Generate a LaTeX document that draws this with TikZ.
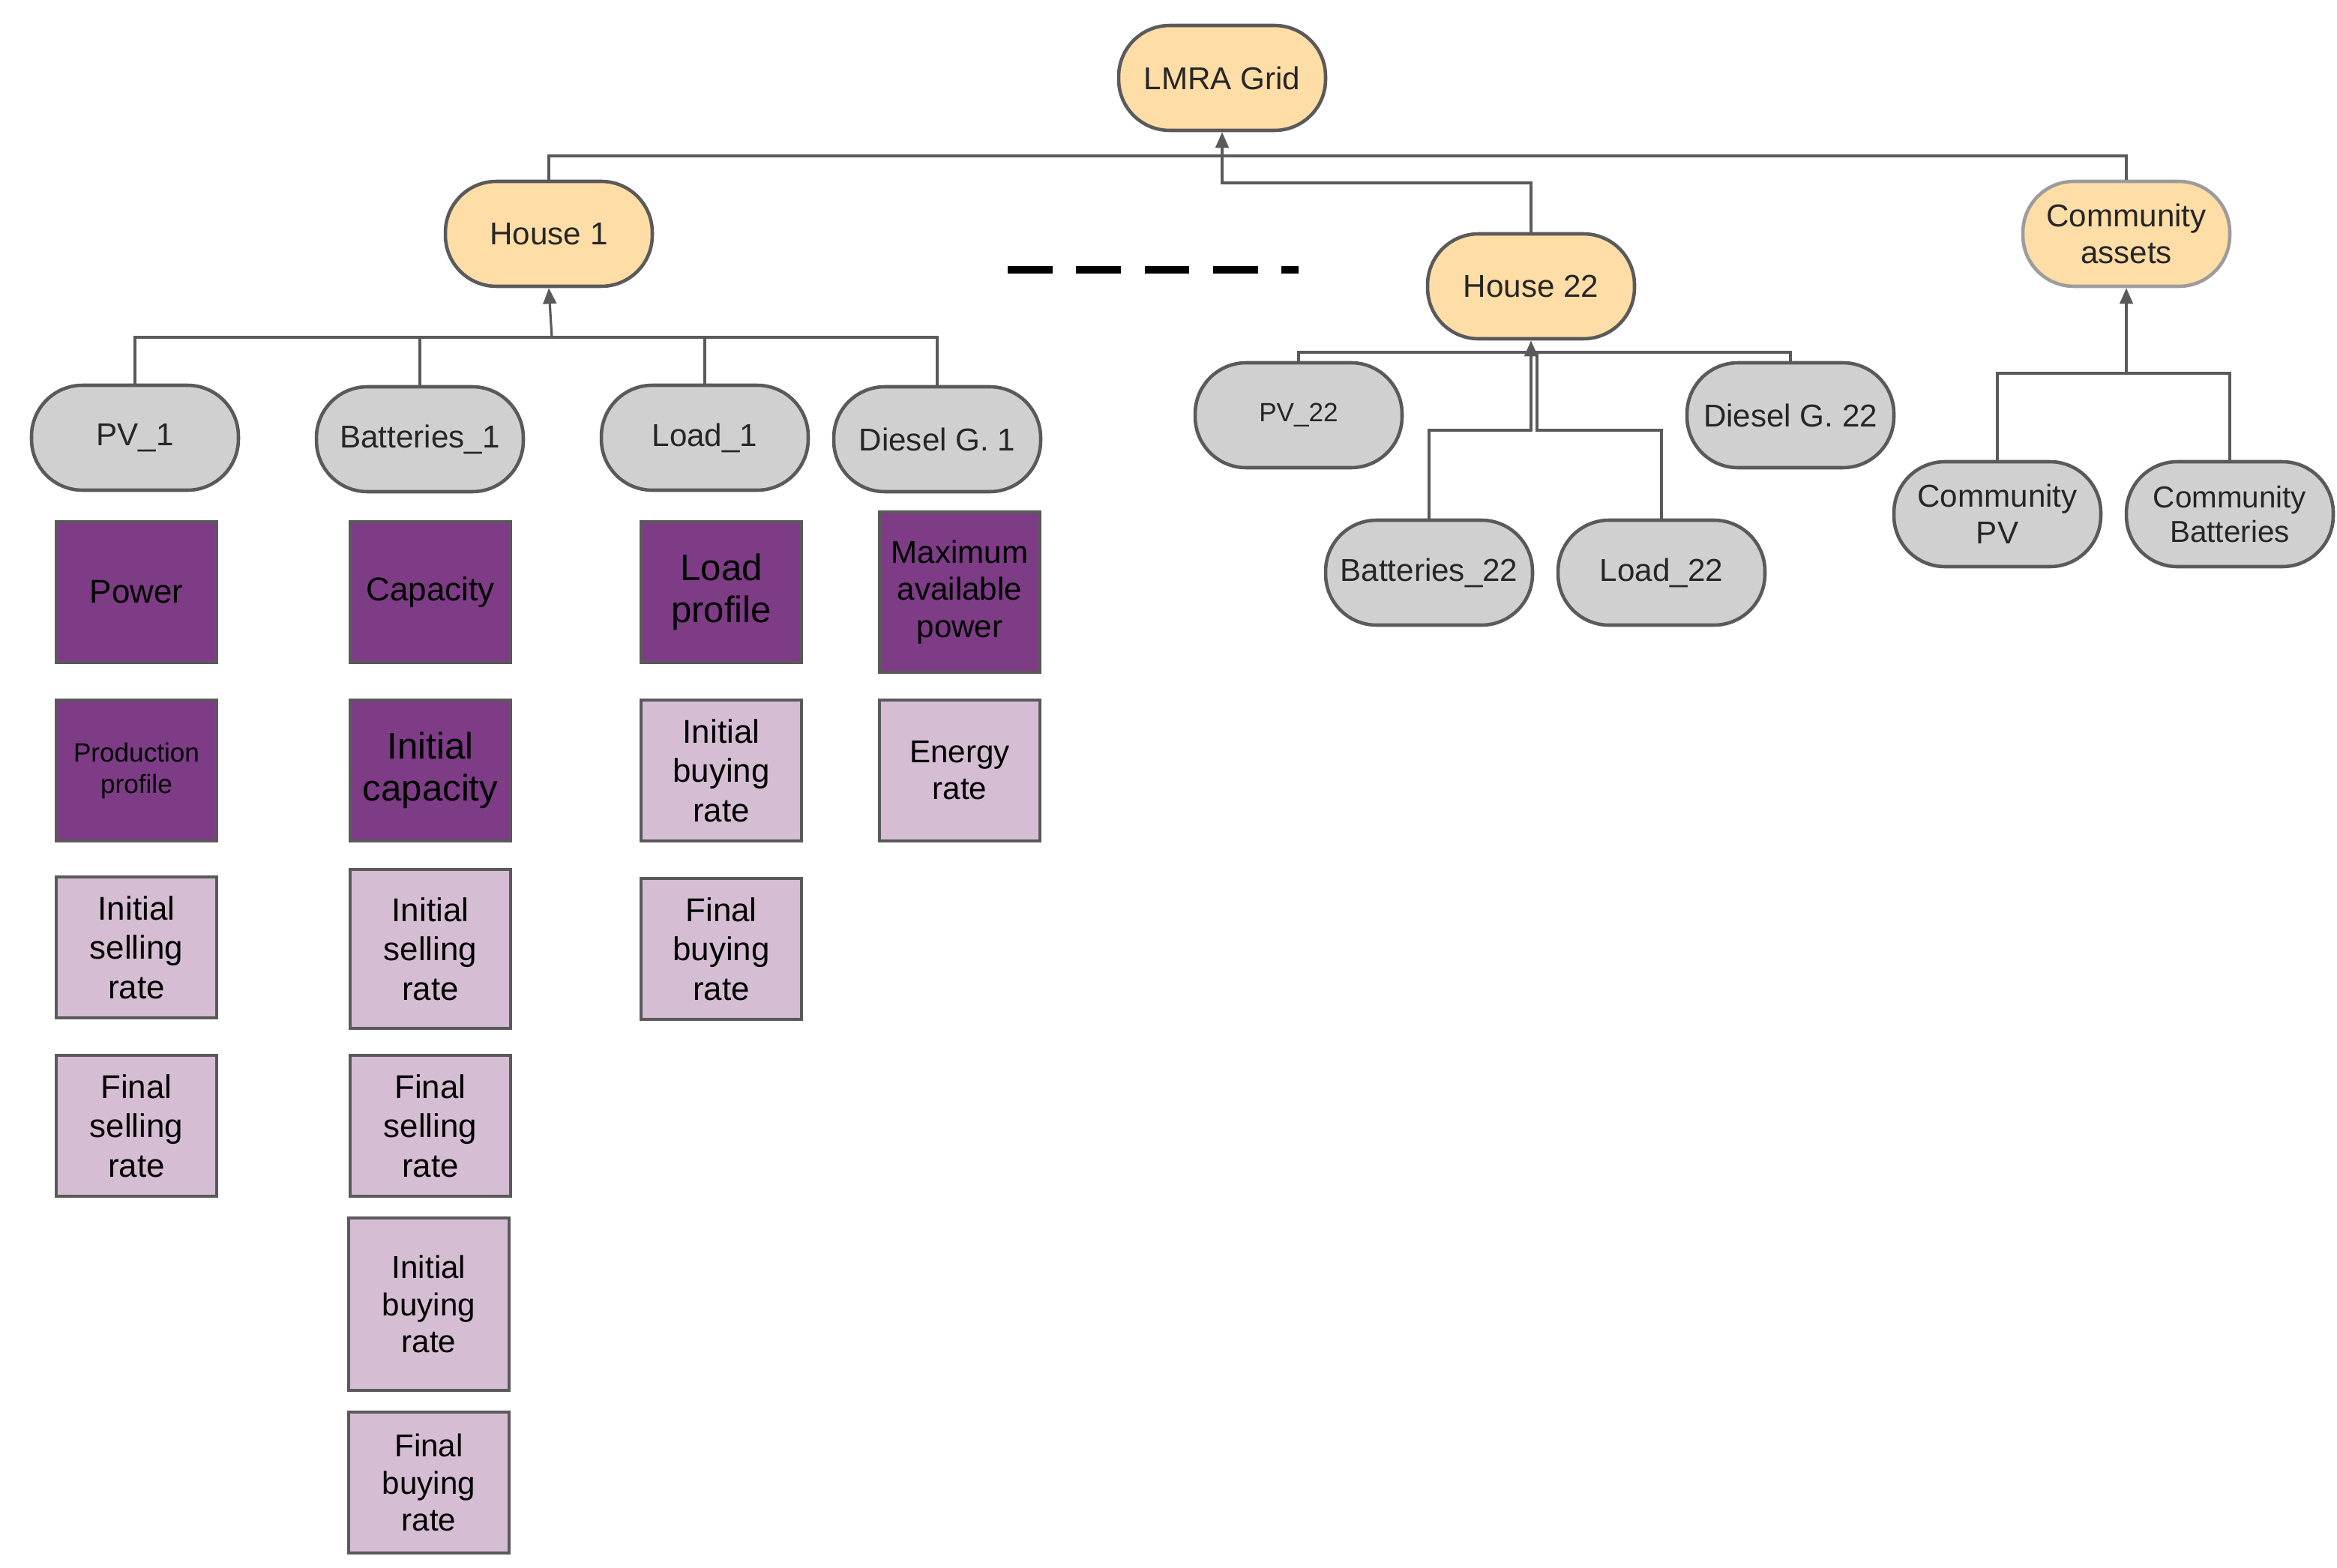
\documentclass[tikz,border=0pt]{standalone}
\usepackage{fontspec}
\setmainfont{Liberation Sans}
\usetikzlibrary{arrows.meta}
\definecolor{org}{HTML}{FFDDA6}
\definecolor{gr}{HTML}{D0D0D0}
\definecolor{st}{HTML}{5A5A5A}
\definecolor{pd}{HTML}{7D3C85}
\definecolor{pl}{HTML}{D5BDD3}
\begin{document}
\begin{tikzpicture}[x=0.02cm,y=-0.02cm,
 pill/.style={draw=st,line width=1.3pt,rounded corners=0.68cm,minimum width=2.76cm,minimum height=1.4cm,align=center,inner sep=1pt,font=\fontsize{12}{14}\selectfont,text=black!85},
 hn/.style={pill,fill=org},
 cn/.style={pill,fill=gr},
 box/.style={draw=st,line width=1.3pt,minimum width=2.14cm,minimum height=1.88cm,align=center,inner sep=1pt,font=\fontsize{12.5}{15}\selectfont,text=black},
 bd/.style={box,fill=pd},
 bl/.style={box,fill=pl},
 ln/.style={draw=st,line width=0.9pt},
 ar/.style={ln,-{Triangle[length=6pt,width=5pt]}}]
\useasboundingbox (0,0) rectangle (1558.5,1045.5);
\node[hn] (grid) at (815,52) {LMRA Grid};
\node[hn] (h1) at (366,156) {House 1};
\node[hn] (h22) at (1021,191) {House 22};
\node[hn,draw=st!60] (ca) at (1418,156) {Community\\assets};
\node[cn] (pv1) at (90,292) {PV\_1};
\node[cn] (b1) at (280,293) {Batteries\_1};
\node[cn] (l1) at (470,292) {Load\_1};
\node[cn] (d1) at (625,293) {Diesel G. 1};
\node[cn,font=\fontsize{10}{12}\selectfont] (pv22) at (866,277) {PV\_22};
\node[cn] (d22) at (1194,277) {Diesel G. 22};
\node[cn] (b22) at (953,382) {Batteries\_22};
\node[cn] (l22) at (1108,382) {Load\_22};
\node[cn] (cpv) at (1332,343) {Community\\PV};
\node[cn,font=\fontsize{11.5}{13}\selectfont] (cb) at (1487,343) {Community\\Batteries};
% boxes
\node[bd] (p1) at (91,395) {Power};
\node[bd,font=\fontsize{10}{12}\selectfont] (p2) at (91,514) {Production\\profile};
\node[bl] (p3) at (91,632) {Initial\\selling\\rate};
\node[bl] (p4) at (91,751) {Final\\selling\\rate};
\node[bd] (q1) at (287,395) {Capacity};
\node[bd,font=\fontsize{14}{16}\selectfont] (q2) at (287,514) {Initial\\capacity};
\node[bl,minimum height=2.12cm] (q3) at (287,633) {Initial\\selling\\rate};
\node[bl] (q4) at (287,751) {Final\\selling\\rate};
\node[bl,minimum height=2.3cm,font=\fontsize{12}{14}\selectfont] (q5) at (286,870) {Initial\\buying\\rate};
\node[bl,font=\fontsize{12}{14}\selectfont] (q6) at (286,989) {Final\\buying\\rate};
\node[bd,font=\fontsize{14}{16}\selectfont] (r1) at (481,395) {Load\\profile};
\node[bl] (r2) at (481,514) {Initial\\buying\\rate};
\node[bl] (r3) at (481,633) {Final\\buying\\rate};
\node[bd,minimum height=2.14cm,font=\fontsize{12}{14}\selectfont] (s1) at (640,395) {Maximum\\available\\power};
\node[bl,font=\fontsize{12}{14}\selectfont] (s2) at (640,514) {Energy\\rate};
% dashed
\coordinate (da) at (672,180); \coordinate (db) at (866,180);
\draw[line width=3pt,dash pattern=on 17pt off 9pt] (da) -- (db);
% connectors to grid
\draw[ln] (h1.north) -- (366,104) -- (1418,104) -- (ca.north);
\draw[ln] (h22.north) -- (1021,122) -- (815,122) -- (815,104);
\draw[ar] (815,104) -- (grid.south);
% house 1
\draw[ln] (pv1.north) -- (90,225) -- (625,225) -- (d1.north);
\draw[ln] (b1.north) -- (280,225);
\draw[ln] (l1.north) -- (470,225);
\draw[ar] (368,225) -- (h1.south);
% house 22
\draw[ln] (pv22.north) -- (866,235) -- (1194,235) -- (d22.north);
\draw[ln] (b22.north) -- (953,287) -- (1021,287) -- (1021,235);
\draw[ln] (l22.north) -- (1108,287) -- (1025,287) -- (1025,235);
\draw[ar] (1021,235) -- (h22.south);
% community
\draw[ln] (cpv.north) -- (1332,249) -- (1487,249) -- (cb.north);
\draw[ar] (1418,249) -- (ca.south);
\end{tikzpicture}
\end{document}
